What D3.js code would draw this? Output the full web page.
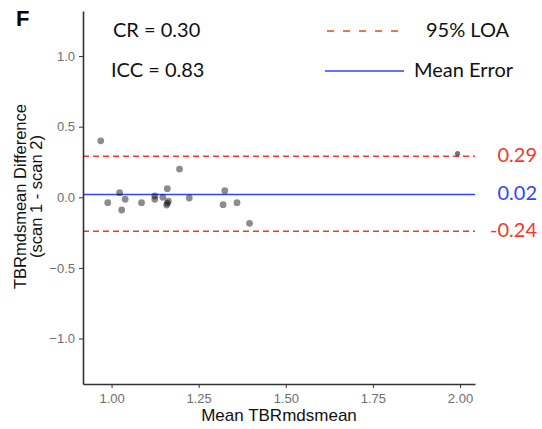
<!DOCTYPE html>
<html>
<head>
<meta charset="utf-8">
<script src="https://cdn.jsdelivr.net/npm/d3@7"></script>
<style>
  body { margin: 0; background: #fff; }
  svg { display: block; }
  .tick text { fill: #6e6e6e; font-family: "Liberation Sans", Arial, sans-serif; font-size: 13px; }
  .tick line { stroke: #333; }
  .note { font-family: Lato, "Open Sans", sans-serif; font-size: 20px; fill: #111; }
</style>
</head>
<body>
<svg width="542" height="429"></svg>
<script>
// Mean of both scans (x) and difference scan1 - scan2 (y)
const meanVals = [0.969, 0.989, 1.023, 1.029, 1.039, 1.086, 1.124, 1.124, 1.147, 1.160,
                  1.163, 1.158, 1.160, 1.195, 1.223, 1.320, 1.325, 1.360, 1.396];
const diffVals = [0.400, -0.038, 0.033, -0.090, -0.014, -0.038, 0.009, -0.014, 0.000, 0.061,
                  -0.028, -0.055, -0.042, 0.200, -0.005, -0.052, 0.047, -0.038, -0.184];
// the lone small point at the right end
const outlierMean = [1.993];
const outlierDiff = [0.31];

const meanError = 0.02;
const loaValues = [0.29, -0.24];
const loaLabels = ["0.29", "-0.24"];
const xTicks = [1.00, 1.25, 1.50, 1.75, 2.00];
const yTicks = [-1.0, -0.5, 0.0, 0.5, 1.0];

const red = "#f5372b";
const blue = "#2f45ff";

const svg = d3.select("svg");

// Panel edges
const panelLeft = 83, panelRight = 475, panelTop = 11, panelBottom = 384;

const xScale = d3.scaleLinear()
  .domain([0.918, 2.043])
  .range([panelLeft, panelRight]);

const yScale = d3.scaleLinear()
  .domain([-1.322, 1.319])
  .range([panelBottom, panelTop]);

// Limits of agreement
svg.selectAll(".loa")
  .data(loaValues)
  .enter()
  .append("line")
  .attr("class", "loa")
  .attr("x1", panelLeft)
  .attr("x2", panelRight)
  .attr("y1", d => yScale(d))
  .attr("y2", d => yScale(d))
  .attr("stroke", red)
  .attr("stroke-width", 1.5)
  .attr("stroke-dasharray", "6,4");

// Mean error line
svg.append("line")
  .attr("x1", panelLeft)
  .attr("x2", panelRight)
  .attr("y1", yScale(meanError))
  .attr("y2", yScale(meanError))
  .attr("stroke", blue)
  .attr("stroke-width", 1.5);

// Points
svg.selectAll(".pt")
  .data(meanVals.map((m, i) => [m, diffVals[i]]))
  .enter()
  .append("circle")
  .attr("class", "pt")
  .attr("cx", d => xScale(d[0]))
  .attr("cy", d => yScale(d[1]))
  .attr("r", 3.4)
  .attr("fill", "#000")
  .attr("fill-opacity", 0.45);

svg.selectAll(".pt2")
  .data(outlierMean.map((m, i) => [m, outlierDiff[i]]))
  .enter()
  .append("circle")
  .attr("class", "pt2")
  .attr("cx", d => xScale(d[0]))
  .attr("cy", d => yScale(d[1]))
  .attr("r", 2.6)
  .attr("fill", "#000")
  .attr("fill-opacity", 0.55);

// Axes
const xAxis = d3.axisBottom(xScale)
  .tickValues(xTicks)
  .tickFormat(d3.format(".2f"))
  .tickSizeInner(4)
  .tickSizeOuter(0)
  .tickPadding(6);

const yAxis = d3.axisLeft(yScale)
  .tickValues(yTicks)
  .tickFormat(d3.format(".1f"))
  .tickSizeInner(4)
  .tickSizeOuter(0)
  .tickPadding(4);

const gx = svg.append("g")
  .attr("transform", `translate(0, ${panelBottom})`)
  .call(xAxis);
gx.select(".domain").attr("stroke", "#333").attr("stroke-width", 1.6);

const gy = svg.append("g")
  .attr("transform", `translate(${panelLeft}, 0)`)
  .call(yAxis);
gy.select(".domain").attr("stroke", "#333").attr("stroke-width", 1.6);

// Axis titles
svg.append("text")
  .attr("x", (panelLeft + panelRight) / 2)
  .attr("y", 421)
  .attr("text-anchor", "middle")
  .style("font-family", "'Liberation Sans', Arial, sans-serif")
  .style("font-size", "17px")
  .attr("fill", "#111")
  .text("Mean TBRmdsmean");

const yTitle = svg.append("text")
  .attr("transform", "translate(26, 196.5) rotate(-90)")
  .attr("text-anchor", "middle")
  .style("font-family", "'Liberation Sans', Arial, sans-serif")
  .style("font-size", "16.5px")
  .attr("fill", "#111");
yTitle.append("tspan").attr("x", 0).attr("dy", 0).text("TBRmdsmean Difference");
yTitle.append("tspan").attr("x", 0).attr("dy", 16).text("(scan 1 - scan 2)");

// Panel letter
svg.append("text")
  .attr("x", 16)
  .attr("y", 26)
  .style("font-family", "'Liberation Sans', Arial, sans-serif")
  .style("font-weight", "bold")
  .style("font-size", "22px")
  .attr("fill", "#000")
  .text("F");

// Statistics
svg.append("text").attr("class", "note").attr("x", 113).attr("y", 37).text("CR = 0.30");
svg.append("text").attr("class", "note").attr("x", 111).attr("y", 77).text("ICC = 0.83");

// Legend
svg.append("line")
  .attr("x1", 327).attr("x2", 398)
  .attr("y1", 31).attr("y2", 31)
  .attr("stroke", red)
  .attr("stroke-width", 1.6)
  .attr("stroke-dasharray", "7,9");
svg.append("text").attr("class", "note").attr("x", 426).attr("y", 37).text("95% LOA");

svg.append("line")
  .attr("x1", 325).attr("x2", 404)
  .attr("y1", 71).attr("y2", 71)
  .attr("stroke", blue)
  .attr("stroke-width", 1.6);
svg.append("text").attr("class", "note").attr("x", 414).attr("y", 77).text("Mean Error");

// Value labels on the right
const valueLabels = loaValues.map((v, i) => ({ v: v, t: loaLabels[i], c: red }))
  .concat([{ v: meanError, t: meanError.toFixed(2), c: blue }]);

svg.selectAll(".vlab")
  .data(valueLabels)
  .enter()
  .append("text")
  .attr("class", "vlab")
  .attr("x", 537)
  .attr("y", d => yScale(d.v) + 6)
  .attr("text-anchor", "end")
  .style("font-family", "Lato, 'Open Sans', sans-serif")
  .style("font-size", "20px")
  .attr("fill", d => d.c)
  .text(d => d.t);
</script>
</body>
</html>
